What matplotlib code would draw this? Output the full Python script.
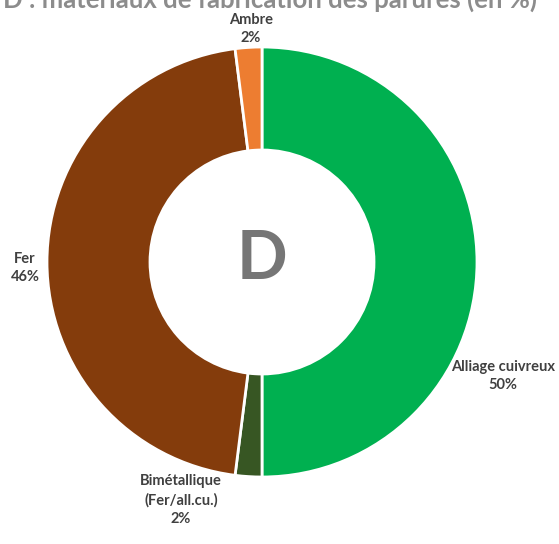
import matplotlib
matplotlib.use("Agg")
import matplotlib.pyplot as plt

# data
categories = ["Alliage cuivreux", "Bimétallique\n(Fer/all.cu.)", "Fer", "Ambre"]
values = [50, 2, 46, 2]
colors = ["#00B050", "#375623", "#843C0C", "#ED7D31"]
title = "D : matériaux de fabrication des parures (en %)"

plt.rcParams['font.family'] = ['Lato', 'DejaVu Sans']

fig = plt.figure(figsize=(5.59, 5.44), dpi=100)
ax = fig.add_axes([0, 0, 1, 1])

cx, cy, r = 262, 544 - 262, 215
ax.pie(values, colors=colors, startangle=90, counterclock=False,
       center=(cx, cy), radius=r, frame=True,
       wedgeprops=dict(width=103, edgecolor='white', linewidth=2))
ax.set_xlim(0, 559)
ax.set_ylim(0, 544)
ax.set_aspect('equal')
ax.axis('off')

# labels (name + percentage)
label_pos = [(503, 544 - 376), (181, 544 - 500), (25, 544 - 268), (251, 544 - 29)]
for name, v, (x, y) in zip(categories, values, label_pos):
    ax.text(x, y, f"{name}\n{v}%", ha='center', va='center', fontsize=10.5,
            fontweight='bold', color='#404040', linespacing=1.4)

ax.text(cx, cy + 2, "D", ha='center', va='center', fontsize=48,
        fontweight='bold', color='#767676')

fig.text(0.483, 1 - 8 / 544, title, ha='center', va='baseline', fontsize=18.5,
         fontweight='bold', color='#8C8C8C')

fig.savefig("out.png", dpi=100)
